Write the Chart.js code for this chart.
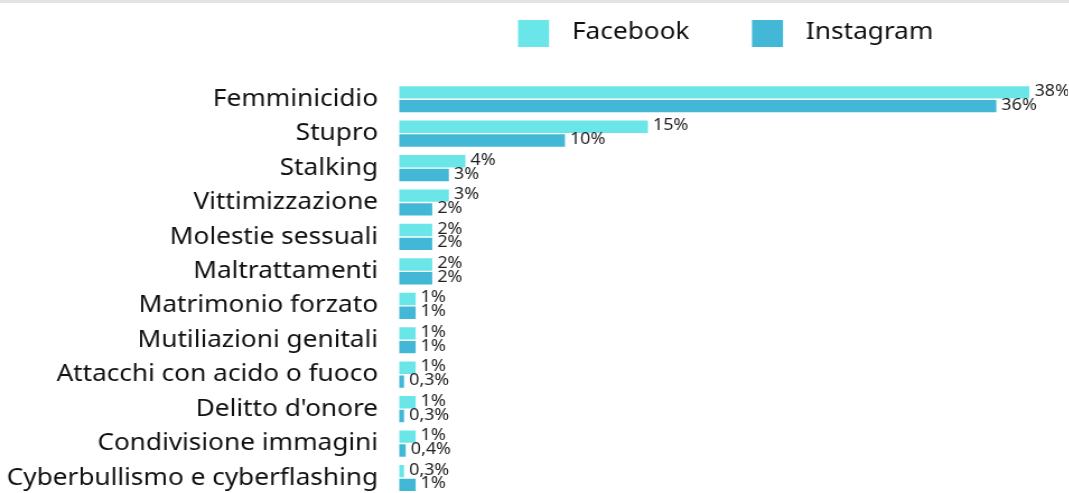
<!DOCTYPE html>
<html>
<head>
<meta charset="utf-8">
<script src="https://cdn.jsdelivr.net/npm/chart.js@4.4.1/dist/chart.umd.min.js"></script>
<style>
    html, body { margin: 0; padding: 0; background: #fff; overflow: hidden; }
    body { width: 1069px; height: 493px; }
    .topbar { height: 3px; background: #e3e3e3; }
    /* the original artwork is a little wider than tall, so the canvas is stretched horizontally */
    #chart { display: block; transform: scaleX(1.12); transform-origin: 0 0; }
</style>
</head>
<body>
<div class="topbar"></div>
<!-- taller than the window: the last row is cut off at the bottom like in the original -->
<canvas id="chart" width="954" height="525"></canvas>
<script>
// Chart data
const categories = [
    'Femminicidio', 'Stupro', 'Stalking', 'Vittimizzazione', 'Molestie sessuali',
    'Maltrattamenti', 'Matrimonio forzato', 'Mutiliazioni genitali',
    'Attacchi con acido o fuoco', "Delitto d'onore", 'Condivisione immagini',
    'Cyberbullismo e cyberflashing'
];
const facebookValues = [38, 15, 4, 3, 2, 2, 1, 1, 1, 1, 1, 0.3];
const instagramValues = [36, 10, 3, 2, 2, 2, 1, 1, 0.3, 0.3, 0.4, 1];
const seriesNames = ['Facebook', 'Instagram'];
const seriesColors = ['#6be6e8', '#42b8d6'];

const FONT = "'Noto Sans', sans-serif";

function fmt(v) {
    return String(v).replace('.', ',') + '%';
}

// value labels at the end of each bar
const barLabels = {
    id: 'barLabels',
    afterDatasetsDraw(chart) {
        const ctx = chart.ctx;
        ctx.save();
        ctx.font = '16px ' + FONT;
        ctx.fillStyle = '#222';
        ctx.textAlign = 'left';
        ctx.textBaseline = 'middle';
        chart.data.datasets.forEach((ds, i) => {
            chart.getDatasetMeta(i).data.forEach((bar, j) => {
                ctx.fillText(fmt(ds.data[j]), bar.x + 4.5, bar.y - 1);
            });
        });
        ctx.restore();
    }
};

// legend drawn above the bars
const topLegend = {
    id: 'topLegend',
    afterDraw(chart) {
        const ctx = chart.ctx;
        const items = [{ x: 462.5 }, { x: 671.4 }];
        ctx.save();
        ctx.font = '23.4px ' + FONT;
        ctx.textBaseline = 'alphabetic';
        items.forEach((it, i) => {
            ctx.fillStyle = seriesColors[i];
            ctx.fillRect(it.x, 17, 27.7, 27);
            ctx.fillStyle = '#111';
            ctx.fillText(seriesNames[i], it.x + 48.2, 35.5);
        });
        ctx.restore();
    }
};

new Chart(document.getElementById('chart'), {
    type: 'bar',
    data: {
        labels: categories,
        datasets: [
            { label: seriesNames[0], data: facebookValues, backgroundColor: seriesColors[0] },
            { label: seriesNames[1], data: instagramValues, backgroundColor: seriesColors[1] }
        ]
    },
    options: {
        indexAxis: 'y',
        responsive: false,
        maintainAspectRatio: false,
        animation: false,
        layout: { autoPadding: false, padding: { top: 79, right: 34.8, bottom: 8, left: 0 } },
        datasets: { bar: { categoryPercentage: 0.8, barPercentage: 0.9, borderWidth: 0 } },
        plugins: {
            legend: { display: false },
            tooltip: { enabled: false }
        },
        scales: {
            x: {
                display: false,
                min: 0,
                max: 38
            },
            y: {
                grid: { display: false, drawTicks: false },
                border: { display: false },
                ticks: {
                    color: '#111',
                    padding: 18.75,
                    font: { family: FONT, size: 23.4 }
                },
                afterFit(scale) { scale.width = 356.3; }
            }
        }
    },
    plugins: [barLabels, topLegend]
});
</script>
</body>
</html>
